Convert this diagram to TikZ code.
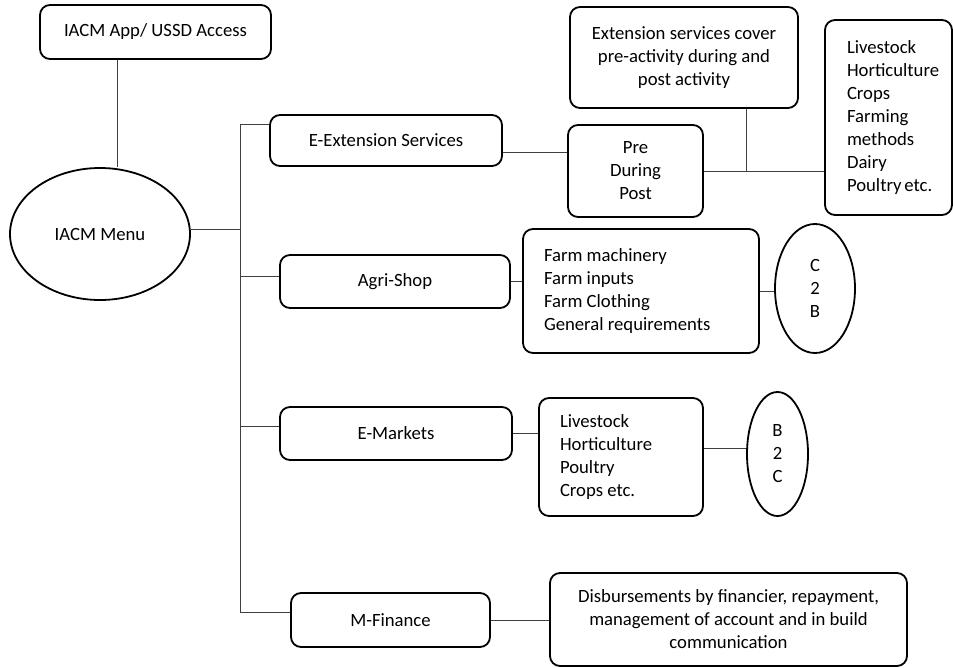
\documentclass[tikz,border=0pt]{standalone}
\usepackage{fontspec}
\setmainfont{Carlito}
\usetikzlibrary{shapes.geometric,calc}

\begin{document}
\begin{tikzpicture}[x=1pt,y=-1pt,
        every node/.style={font=\fontsize{18.7}{23}\selectfont},
        menubox/.style={draw, line width=1.8pt, rounded corners=10pt, align=center, inner sep=0pt},
        listbox/.style={menubox, align=left, inner ysep=0pt,
            execute at begin node={\spaceskip=0pt\xspaceskip=0pt}},
        oval/.style={draw, ellipse, line width=1.8pt, align=center, inner sep=0pt},
        link/.style={line width=1pt, black!75}]
        \useasboundingbox (0,0) rectangle (953,667);

        % Access and menu
        \node[menubox, minimum width=231pt, minimum height=54pt] (app) at (155.5,32) {IACM App/ USSD Access};
        \node[oval, minimum width=180pt, minimum height=132pt] (menu) at (100,234) {IACM Menu};

        % Menu items
        \node[menubox, minimum width=232pt, minimum height=51pt] (ext) at (386,140.5) {E-Extension Services};
        \node[menubox, minimum width=230pt, minimum height=53pt] (agri) at (395,281.5) {Agri-Shop};
        \node[menubox, minimum width=232pt, minimum height=53pt] (emk) at (396,433.5) {E-Markets};
        \node[menubox, minimum width=199pt, minimum height=54pt] (mfin) at (390.5,620) {M-Finance};

        % E-Extension details
        \node[menubox, minimum width=228pt, minimum height=101pt] (extsvc) at (684,57.5)
            {Extension services cover\\ pre-activity during and\\ post activity};
        \node[menubox, minimum width=135pt, minimum height=92pt] (pre) at (635.5,171) {Pre\\ During\\ Post};
        \node[listbox, inner xsep=22pt, text width=83pt, minimum height=195pt] (crops) at (888.5,117.5)
            {Livestock\\ Horticulture\\ Crops\\ Farming\\ methods\\ Dairy\\ Poultry~etc.};

        % Agri-Shop details
        \node[listbox, inner xsep=21pt, text width=194pt, minimum height=124pt] (farm) at (641,291)
            {Farm machinery\\ Farm inputs\\ Farm Clothing\\ General requirements};
        \node[oval, minimum width=80pt, minimum height=129pt] (c2b) at (815,288.5) {C\\ 2\\ B};

        % E-Markets details
        \node[listbox, inner xsep=21pt, text width=122pt, minimum height=118pt] (mlist) at (621,457)
            {Livestock\\ Horticulture\\ Poultry\\ Crops etc.};
        \node[oval, minimum width=61pt, minimum height=124pt] (b2c) at (777.5,454) {B\\ 2\\ C};

        % M-Finance details
        \node[menubox, minimum width=357pt, minimum height=93pt] (disb) at (728.5,619.5)
            {Disbursements by financier, repayment,\\ management of account and in build\\ communication};

        % Lines
        \coordinate (ttop) at (240,124);
        \coordinate (tbot) at (240,612);
        \draw[link] ($(app.south)+(-38,0)$) coordinate (a0) -- (a0 |- menu.north);
        \draw[link] ($(menu.east)+(0,-5)$) coordinate (a3) -- (a3 -| ttop);
        \draw[link] (ttop) -- (tbot);
        \draw[link] (ttop) -- (ttop -| ext.west);
        \draw[link] ($(agri.west)+(0,-5)$) coordinate (a1) -- (a1 -| ttop);
        \draw[link] ($(emk.west)+(0,-7)$) coordinate (a2) -- (a2 -| ttop);
        \draw[link] (tbot) -- (tbot -| mfin.west);

        \draw[link] ($(ext.east)+(0,12)$) coordinate (e1) -- (e1 -| pre.west);
        \draw[link] (pre.east) -- (pre.east -| crops.west);
        \draw[link] ($(extsvc.south east)+(-52,0)$) coordinate (e2) -- (e2 |- pre.east);

        \draw[link] (agri.east) -- (agri.east -| farm.west);
        \draw[link] (farm.east) -- (farm.east -| c2b.west);
        \draw[link] (emk.east) -- (emk.east -| mlist.west);
        \draw[link] ($(mlist.east)+(0,-9)$) coordinate (m1) -- (m1 -| b2c.west);
        \draw[link] (mfin.east) -- (mfin.east -| disb.west);
    \end{tikzpicture}
\end{document}
